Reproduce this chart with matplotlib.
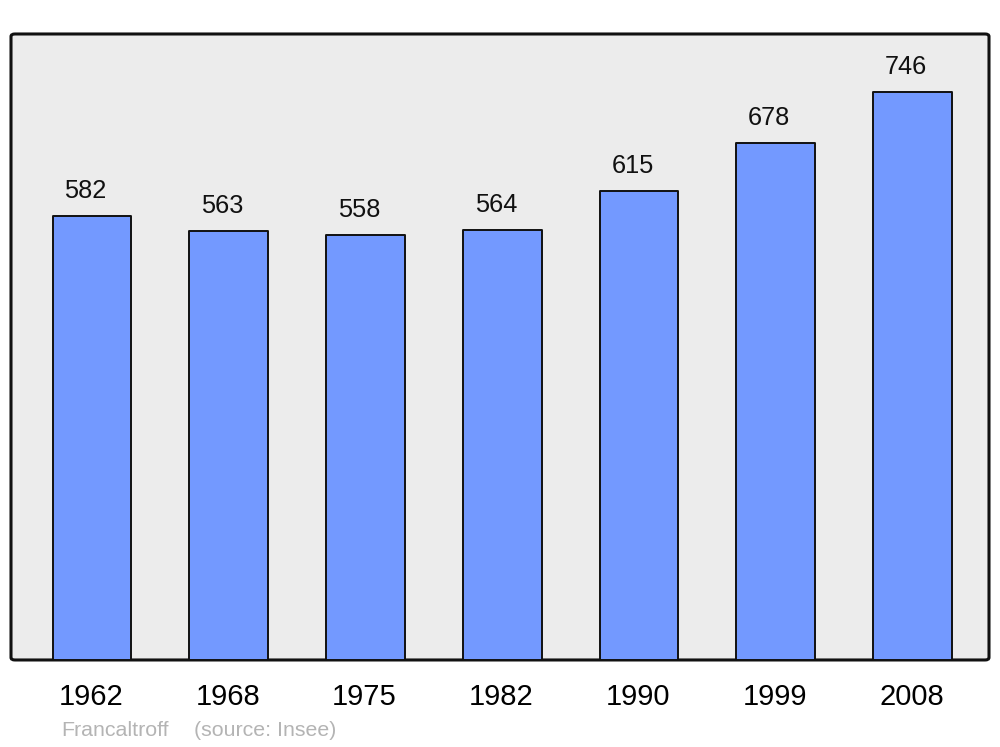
import matplotlib
matplotlib.use("Agg")
import matplotlib.pyplot as plt
from matplotlib.patches import FancyBboxPatch

years = ["1962", "1968", "1975", "1982", "1990", "1999", "2008"]
population = [582, 563, 558, 564, 615, 678, 746]
commune = "Francaltroff"
source = "(source: Insee)"

plt.rcParams['font.family'] = ['Liberation Sans', 'DejaVu Sans']

fig = plt.figure(figsize=(10, 7.47), dpi=100)
ax = fig.add_axes([0.011, 0.1165, 0.978, 0.838])
ax.set_xlim(-0.592, 6.559)
ax.set_ylim(0, 821.5)
ax.axis('off')

# frame with rounded corners
frame = FancyBboxPatch((0, 0), 1, 1, boxstyle="round,pad=0,rounding_size=0.004",
                       transform=ax.transAxes, facecolor='#ececec',
                       edgecolor='#111111', linewidth=2.2, zorder=0, clip_on=False)
ax.add_patch(frame)

x = list(range(len(years)))
bars = ax.bar(x, population, width=0.575, color='#7399ff', edgecolor='#111111',
              linewidth=1.4, zorder=2)
for b in bars:
    b.set_joinstyle('round')

for xi, v in zip(x, population):
    ax.annotate(str(v), (xi, v), xytext=(-6.5, 25), textcoords='offset pixels',
                ha='center', va='center', fontsize=18.3, color='#111111')
    ax.annotate(years[xi], (xi, 0), xytext=(-1, -37), textcoords='offset pixels',
                ha='center', va='center', fontsize=21, color='#000000',
                annotation_clip=False)

fig.text(0.061, 1 - 731 / 747, commune, ha='left', va='center', fontsize=15.4, color='#b4b4b4')
fig.text(0.194, 1 - 731 / 747, source, ha='left', va='center', fontsize=15.4, color='#b4b4b4')

fig.savefig("out.png", dpi=100)
